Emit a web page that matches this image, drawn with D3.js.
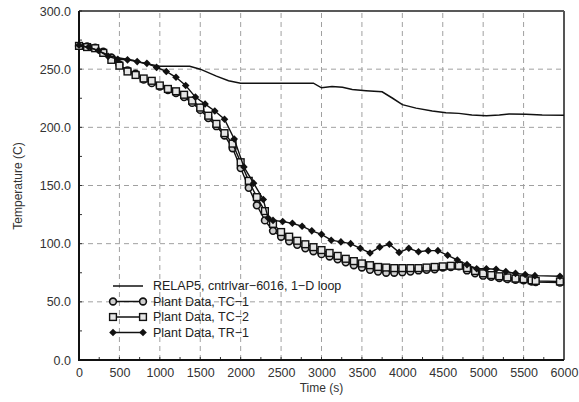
<!DOCTYPE html>
<html><head><meta charset="utf-8">
<script src="https://cdn.jsdelivr.net/npm/d3@7"></script>
<style>body{margin:0;background:#fff}svg{display:block}</style>
</head><body>
<svg id="c" width="579" height="402"></svg>
<script>
const xTicks = [0,500,1000,1500,2000,2500,3000,3500,4000,4500,5000,5500,6000];
const yTicks = [0,50,100,150,200,250,300];
const legendLabels = ["RELAP5, cntrlvar\u22126016, 1\u2212D loop","Plant Data, TC\u22121","Plant Data, TC\u22122","Plant Data, TR\u22121"];

const relapTime = [0,100,200,300,400,500,667,800,1000,1200,1370,1500,1700,1850,2000,2500,2750,2900,3000,3130,3260,3380,3550,3750,3880,4000,4170,4370,4540,4700,4860,5040,5200,5320,5530,5730,6000];
const relapTemp = [270,269,267,264,261,259.5,257.7,255,252.6,252.5,252.5,250,244,240,238,238,238,238,234,235,234.5,232.5,231.5,230.5,225,219.5,216.5,214,212.5,212,210.5,210,210.5,211.5,211.3,210.5,210.3];

const tcTime = [0,100,200,300,400,500,600,700,800,900,1000,1100,1200,1300,1400,1500,1600,1700,1800,1900,2000,2100,2200,2300,2400,2500,2600,2700,2800,2900,3000,3100,3200,3300,3400,3500,3600,3700,3800,3900,4000,4100,4200,4300,4400,4500,4600,4700,4800,4900,5000,5100,5200,5300,5400,5500,5600,5650,5950];
const tc1Temp = [270,269.5,268.5,265,260,254,249,246,241,238,235,232,229.5,226,221,215,208,201,193,182,165,148,133,120,111,106,102,99,96,93.5,91,89,86.5,84,81.5,79.5,77.5,76,75,75,75.5,76,77,77.5,78,79.5,80,80.5,77,74.5,72.5,71.5,70.5,69.5,69,68.5,67.5,67,66.5];
const tc2Temp = [270,269,268,264,258,253,248,245,242,240,236,233,231,228,223,217,210,203,195,186,170,154,140,128,117,110,106,102.5,99.5,97,94.5,92,89.5,87,85,83,81.5,80,79.5,79,79,79,79,79.5,80,80.5,81,81,79,76.5,74.5,73,72,71,70,69.5,68.5,68,67.5];

const tr1Time = [0,120,240,360,480,600,720,840,960,1080,1200,1320,1440,1560,1680,1800,1920,2040,2160,2280,2340,2400,2520,2640,2760,2880,3000,3120,3240,3360,3480,3600,3720,3840,3960,4080,4200,4320,4440,4560,4680,4800,4920,5040,5160,5280,5400,5520,5640,5950];
const tr1Temp = [270.5,269,266,261,258.5,258,256.5,255,251.5,248,243,236,226,220,214,207,190,166,152,138,122,120,119,117.5,115,111,108,103,101.5,100,96,92,97,99.5,92.5,96,93,94,94,90,86,82,78.5,78.5,78,76,74.5,73.5,72.5,72];

const svg = d3.select("#c");
const x = d3.scaleLinear().domain([0,6000]).range([79,564]);
const y = d3.scaleLinear().domain([0,300]).range([360,11]);
const font = "Liberation Sans, Arial, sans-serif";

// grid
const g = svg.append("g");
g.selectAll(".vg").data(xTicks.slice(1,-1)).join("line")
  .attr("x1",d=>x(d)).attr("x2",d=>x(d)).attr("y1",y(0)).attr("y2",y(300))
  .attr("stroke","#a0a0a0").attr("stroke-width",1).attr("stroke-dasharray","5,4");
g.selectAll(".hg").data(yTicks.slice(1,-1)).join("line")
  .attr("y1",d=>y(d)).attr("y2",d=>y(d)).attr("x1",x(0)).attr("x2",x(6000))
  .attr("stroke","#a0a0a0").attr("stroke-width",1).attr("stroke-dasharray","5,4");

// axes
const xAxis = d3.axisBottom(x).tickValues(xTicks).tickSize(0).tickPadding(8).tickFormat(d3.format("d"));
const yAxis = d3.axisLeft(y).tickValues(yTicks).tickSize(0).tickPadding(8).tickFormat(d3.format(".1f"));
const gx = svg.append("g").attr("transform",`translate(0,${y(0)})`).call(xAxis);
const gy = svg.append("g").attr("transform",`translate(${x(0)},0)`).call(yAxis);
[gx,gy].forEach(a=>{a.select(".domain").remove();a.selectAll("text").attr("font-family",font).attr("font-size",12.5).attr("fill","#333");});
gx.selectAll("text").attr("dy","0.71em");

// minor ticks
svg.append("g").selectAll("line").data(d3.range(0,6001,250)).join("line")
  .attr("x1",d=>x(d)).attr("x2",d=>x(d)).attr("y1",y(0)).attr("y2",y(0)-3).attr("stroke","#333");
svg.append("g").selectAll("line").data(d3.range(0,301,25)).join("line")
  .attr("y1",d=>y(d)).attr("y2",d=>y(d)).attr("x1",x(0)).attr("x2",x(0)+3).attr("stroke","#333");

// frame
svg.append("line").attr("x1",x(0)).attr("x2",x(6000)).attr("y1",y(300)).attr("y2",y(300)).attr("stroke","#222").attr("stroke-width",1.3);
svg.append("line").attr("x1",x(6000)).attr("x2",x(6000)).attr("y1",y(300)).attr("y2",y(0)).attr("stroke","#555").attr("stroke-width",2);
svg.append("line").attr("x1",x(0)).attr("x2",x(0)).attr("y1",y(300)).attr("y2",y(0)+1).attr("stroke","#111").attr("stroke-width",2);
svg.append("line").attr("x1",x(0)-1).attr("x2",x(6000)).attr("y1",y(0)).attr("y2",y(0)).attr("stroke","#111").attr("stroke-width",2);

// titles
svg.append("text").attr("x",x(3000)).attr("y",392).attr("text-anchor","middle")
  .attr("font-family",font).attr("font-size",12).attr("fill","#333").text("Time (s)");
svg.append("text").attr("transform","translate(22,186) rotate(-90)").attr("text-anchor","middle")
  .attr("font-family",font).attr("font-size",12).attr("fill","#333").text("Temperature (C)");

const line = d3.line().x(d=>x(d[0])).y(d=>y(d[1]));
const zip = (a,b)=>a.map((t,i)=>[t,b[i]]);
const relap = zip(relapTime,relapTemp), tc1 = zip(tcTime,tc1Temp), tc2 = zip(tcTime,tc2Temp), tr1 = zip(tr1Time,tr1Temp);

function drawMarker(sel, kind){
  if(kind==="circle") sel.append("circle").attr("r",3.4).attr("fill","#cfcfcf").attr("stroke","#111").attr("stroke-width",1.6);
  else if(kind==="square") sel.append("rect").attr("x",-3.4).attr("y",-3.4).attr("width",6.8).attr("height",6.8).attr("fill","#e6e6e6").attr("stroke","#111").attr("stroke-width",1.4);
  else sel.append("path").attr("d","M0,-3.8L3.8,0L0,3.8L-3.8,0Z").attr("fill","#111");
}
function series(data, kind){
  const gg = svg.append("g");
  gg.append("path").datum(data).attr("d",line).attr("fill","none").attr("stroke","#111").attr("stroke-width",1.4);
  gg.selectAll("g").data(data).join("g").attr("transform",d=>`translate(${x(d[0])},${y(d[1])})`).each(function(){drawMarker(d3.select(this),kind);});
}
series(tc1,"circle");
series(tc2,"square");
series(tr1,"diamond");
svg.append("path").datum(relap).attr("d",line).attr("fill","none").attr("stroke","#111").attr("stroke-width",1.5);

// legend
const kinds = [null,"circle","square","diamond"];
const lg = svg.append("g");
legendLabels.forEach((lab,i)=>{
  const yy = 286 + i*15.5;
  lg.append("line").attr("x1",113).attr("x2",143).attr("y1",yy).attr("y2",yy).attr("stroke","#111").attr("stroke-width",1.5);
  if(kinds[i]){
    drawMarker(lg.append("g").attr("transform",`translate(113,${yy})`),kinds[i]);
    drawMarker(lg.append("g").attr("transform",`translate(143,${yy})`),kinds[i]);
  }
  lg.append("text").attr("x",153).attr("y",yy).attr("dy","0.35em").attr("font-family",font).attr("font-size",12.5).attr("fill","#222").text(lab);
});
</script>
</body></html>
